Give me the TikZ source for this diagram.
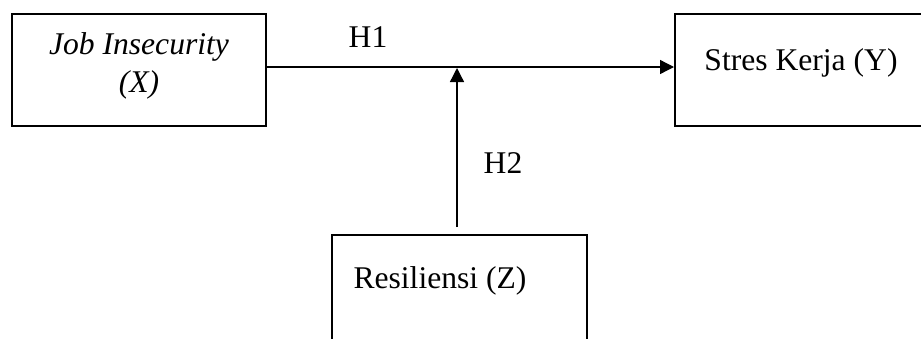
\documentclass[tikz,border=0pt]{standalone}
\usepackage{fontspec}
\setmainfont{Liberation Serif}
\usetikzlibrary{arrows.meta}
\begin{document}
\begin{tikzpicture}[x=1pt,y=-1pt,
  varbox/.style={draw,line width=2pt,minimum width=#1,minimum height=112pt,inner sep=0pt},
  lbl/.style={font=\fontsize{31.6}{38}\selectfont,inner sep=0pt},
  conn/.style={line width=1.3pt,-{Triangle[length=14pt,width=14pt]}}]
  \useasboundingbox (0,0) rectangle (921,338);
  % variable boxes
  \node[varbox=254pt] (bx) at (139,70) {};
  \node[varbox=260pt] (by) at (805,70) {};
  \node[varbox=255pt] (bz) at (459.5,291) {};
  % box texts
  \node[lbl,align=center] (tx) at (139,66) {\itshape Job Insecurity\\\itshape (X)};
  \node[lbl,anchor=base] (ty) at (801,70) {Stres Kerja (Y)};
  \node[lbl,anchor=base] (tz) at (440,288) {Resiliensi (Z)};
  % hypothesis labels
  \node[lbl,anchor=base] (h1) at (368,47) {H1};
  \node[lbl,anchor=base] (h2) at (503,173) {H2};
  % paths
  \coordinate (m) at (457,68);
  \coordinate (zs) at (457,227);
  \draw[conn] ([yshift=3pt]bx.east) -- ([yshift=3pt]by.west);
  \draw[conn] (zs) -- (m);
\end{tikzpicture}
\end{document}
